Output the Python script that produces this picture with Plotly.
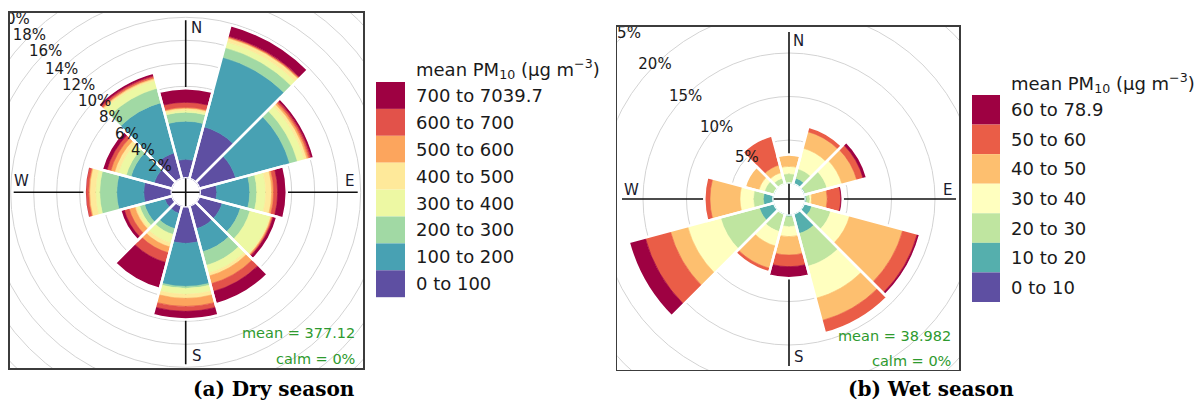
import math
import plotly.graph_objects as go

FIG_W, FIG_H = 1196, 401

# Wind sectors (degrees clockwise from north)
directions = [0, 30, 60, 90, 120, 150, 180, 210, 240, 270, 300, 330]

# ---- Dry season: % of hours per sector, split by mean PM10 class ----
dry_labels = ["0 to 100", "100 to 200", "200 to 300", "300 to 400",
              "400 to 500", "500 to 600", "600 to 700", "700 to 7039.7"]
dry_colors = ["#5E4FA2", "#48A1B3", "#A1D9A4", "#EDF8A3",
              "#FEE99A", "#FCA55D", "#E2524A", "#9E0142"]
dry_0_100 = [1.65, 4.70, 3.30, 1.48, 2.09, 2.09, 3.22, 0.70, 0.70, 2.43, 1.65, 2.35]
dry_100_200 = [3.31, 6.26, 4.87, 2.87, 1.65, 2.08, 3.74, 1.39, 1.82, 2.35, 2.09, 4.52]
dry_200_300 = [0.78, 0.87, 0.70, 0.61, 0.87, 1.22, 0.17, 0.52, 0.44, 1.48, 0.43, 1.30]
dry_300_400 = [0.17, 0.52, 0.61, 0.78, 1.82, 0.70, 0.52, 0.78, 0.26, 0.35, 0.70, 0.70]
dry_400_500 = [0.18, 0.35, 0.26, 0.52, 0.09, 0.26, 0.35, 0.35, 0.17, 0.52, 0.35, 0.17]
dry_500_600 = [0.08, 0.08, 0.17, 0.17, 0.09, 0.69, 0.70, 0.52, 0.52, 0.09, 0.35, 0.09]
dry_600_700 = [0.44, 0.09, 0.18, 0.35, 0.09, 0.70, 0.43, 0.87, 0.44, 0.26, 0.34, 0.17]
dry_700_up = [1.22, 0.96, 0.26, 0.79, 0.34, 1.13, 0.70, 2.35, 0.35, 0.09, 0.44, 0.27]
dry_mean = 377.12
dry_calm = 0

# ---- Wet season ----
wet_labels = ["0 to 10", "10 to 20", "20 to 30", "30 to 40",
              "40 to 50", "50 to 60", "60 to 78.9"]
wet_colors = ["#5E4FA2", "#55AFAD", "#BFE5A0", "#FFFFBF",
              "#FDBF6F", "#EA5D47", "#9E0142"]
wet_0_10 = [0, 0, 0, 0, 0, 0, 0, 0, 0, 0, 0, 0]
wet_10_20 = [0.05, 0.75, 0.20, 0.25, 0.98, 2.36, 0.25, 0.10, 1.78, 1.17, 0.10, 0.00]
wet_20_30 = [1.09, 1.10, 2.57, 0.38, 2.24, 3.90, 1.15, 2.03, 4.60, 1.15, 1.08, 0.75]
wet_30_40 = [0.84, 2.43, 1.77, 0.20, 2.24, 3.80, 1.15, 1.72, 3.91, 1.53, 0.67, 0.65]
wet_40_50 = [1.35, 1.98, 1.78, 1.79, 6.32, 2.64, 2.11, 2.65, 2.07, 3.45, 1.65, 0.89]
wet_50_60 = [0.00, 0.58, 0.75, 1.54, 1.73, 1.50, 1.34, 0.45, 2.98, 0.65, 0.00, 3.51]
wet_60_up = [0.00, 0.00, 0.46, 0.23, 0.34, 0.00, 1.33, 0.00, 1.96, 0.00, 0.00, 0.00]
wet_mean = 38.982
wet_calm = 0

dry_series = [dry_0_100, dry_100_200, dry_200_300, dry_300_400,
              dry_400_500, dry_500_600, dry_600_700, dry_700_up]
wet_series = [wet_0_10, wet_10_20, wet_20_30, wet_30_40,
              wet_40_50, wet_50_60, wet_60_up]

LEGEND_TITLE = "mean PM<sub>10</sub> (µg m<sup>−3</sup>)"
TEXT_FONT = "DejaVu Sans"

panels = [
    dict(series=dry_series, colors=dry_colors, labels=dry_labels,
         mean=dry_mean, calm=dry_calm, caption="(a) Dry season",
         grid_step=2, grid_max=20,
         box=(9.5, 12.7, 363.3, 368.3), center=(185.7, 192.3), radius=175,
         hole=14.0, px_per_pct=11.5, axis_len=172, dir_r=164, dir_shift=11,
         legend_x=376, legend_w=29, legend_top=82, legend_row=26.9,
         legend_text_x=414, legend_title_y=69,
         stats_x=357.3, stats_y=(333, 359), caption_xy=(274, 389)),
    dict(series=wet_series, colors=wet_colors, labels=wet_labels,
         mean=wet_mean, calm=wet_calm, caption="(b) Wet season",
         grid_step=5, grid_max=25,
         box=(617.3, 26.7, 959.3, 370.0), center=(789.0, 199.0), radius=169,
         hole=15.5, px_per_pct=8.7, axis_len=167, dir_r=158, dir_shift=9.5,
         legend_x=972, legend_w=28, legend_top=95, legend_row=29.57,
         legend_text_x=1009, legend_title_y=83,
         stats_x=953.3, stats_y=(336, 361), caption_xy=(930.5, 389)),
]


def px_x(v):
    return v / FIG_W


def px_y(v):
    return 1 - v / FIG_H


fig = go.Figure()
shapes, annotations = [], []
layout_axes = {}

for i, p in enumerate(panels, start=1):
    sfx = "" if i == 1 else str(i)
    xref, yref, polar_id = "x" + sfx, "y" + sfx, "polar" + sfx
    cx, cy = p["center"]
    bx0, by0, bx1, by1 = p["box"]
    R, hole, k = p["radius"], p["hole"], p["px_per_pct"]

    # Pixel-scaled frame around the rose (1 unit = 1 px, origin at rose centre)
    axis_common = dict(showgrid=False, zeroline=False, showticklabels=False,
                       ticks="", showline=True, mirror=True,
                       linecolor="#3c3c3c", linewidth=1.3, fixedrange=True)
    layout_axes["xaxis" + sfx] = dict(axis_common, anchor=yref,
                                      domain=[px_x(bx0), px_x(bx1)],
                                      range=[bx0 - cx, bx1 - cx])
    layout_axes["yaxis" + sfx] = dict(axis_common, anchor=xref,
                                      domain=[px_y(by1), px_y(by0)],
                                      range=[-(by1 - cy), cy - by0])

    # Polar subplot holding the stacked sectors
    layout_axes[polar_id] = dict(
        domain=dict(x=[px_x(cx - R), px_x(cx + R)], y=[px_y(cy + R), px_y(cy - R)]),
        hole=hole / R, bgcolor="rgba(0,0,0,0)", barmode="overlay",
        radialaxis=dict(visible=False, range=[0, (R - hole) / k]),
        angularaxis=dict(visible=False, rotation=90, direction="clockwise"),
    )

    # Frequency grid circles
    for pct in range(p["grid_step"], p["grid_max"] + p["grid_step"], p["grid_step"]):
        r = hole + k * pct
        shapes.append(dict(type="circle", xref=xref, yref=yref, x0=-r, y0=-r, x1=r, y1=r,
                           line=dict(color="#d3d3d3", width=1), layer="below"))
    # Compass cross
    L = p["axis_len"]
    shapes.append(dict(type="line", xref=xref, yref=yref, x0=-L, y0=0, x1=L, y1=0,
                       line=dict(color="#111111", width=1.6), layer="below"))
    shapes.append(dict(type="line", xref=xref, yref=yref, x0=0, y0=-L, x1=0, y1=L,
                       line=dict(color="#111111", width=1.6), layer="below"))

    # Stacked sectors: each class starts where the previous one ends
    base = [0.0] * len(directions)
    for vals, col in zip(p["series"], p["colors"]):
        fig.add_trace(go.Barpolar(
            r=vals, base=list(base), theta=directions, width=30, subplot=polar_id,
            marker=dict(color=col, line=dict(color=col, width=0.6)),
            hoverinfo="skip", showlegend=False))
        base = [b + v for b, v in zip(base, vals)]
    # White outline per sector gives the gaps between neighbouring sectors
    fig.add_trace(go.Barpolar(
        r=base, base=[0] * len(directions), theta=directions, width=30, subplot=polar_id,
        marker=dict(color="rgba(0,0,0,0)", line=dict(color="white", width=2.5)),
        hoverinfo="skip", showlegend=False))

    # Percentage labels along the north-west diagonal
    far_x, far_y, far_t = [], [], []
    for pct in range(p["grid_step"], p["grid_max"] + p["grid_step"], p["grid_step"]):
        r = hole + k * pct
        dx, dy = -r / math.sqrt(2), r / math.sqrt(2)
        if r <= R:
            annotations.append(dict(x=px_x(cx + dx), y=px_y(cy - dy), xref="paper", yref="paper",
                                    text=f"{pct}%", showarrow=False, xanchor="center",
                                    yanchor="middle",
                                    font=dict(family=TEXT_FONT, size=15, color="#1a1a1a")))
        else:
            far_x.append(dx)
            far_y.append(dy)
            far_t.append(f"{pct}%")
    fig.add_trace(go.Scatter(x=far_x, y=far_y, text=far_t, mode="text", xaxis=xref, yaxis=yref,
                             textposition="middle center", cliponaxis=True,
                             textfont=dict(family=TEXT_FONT, size=15, color="#1a1a1a"),
                             hoverinfo="skip", showlegend=False))

    # Compass letters
    dr, sh = p["dir_r"], p["dir_shift"]
    for letter, (lx, ly) in {"N": (sh, dr), "E": (dr, sh), "S": (sh, -dr), "W": (-dr, sh)}.items():
        annotations.append(dict(x=px_x(cx + lx), y=px_y(cy - ly), xref="paper", yref="paper",
                                text=letter, showarrow=False, xanchor="center", yanchor="middle",
                                font=dict(family=TEXT_FONT, size=15, color="#1a1a2e")))

    # Summary statistics
    for txt, sy in zip([f"mean = {p['mean']}", f"calm = {p['calm']}%"], p["stats_y"]):
        annotations.append(dict(x=px_x(p["stats_x"]), y=px_y(sy), xref="paper", yref="paper",
                                text=txt, showarrow=False, xanchor="right", yanchor="middle",
                                font=dict(family=TEXT_FONT, size=14.5, color="#2e9a2e")))

    # Colour key: highest class on top
    n = len(p["labels"])
    for row in range(n):
        j = n - 1 - row
        top = p["legend_top"] + row * p["legend_row"]
        shapes.append(dict(type="rect", xref="paper", yref="paper",
                           x0=px_x(p["legend_x"]), x1=px_x(p["legend_x"] + p["legend_w"]),
                           y0=px_y(top + p["legend_row"]), y1=px_y(top),
                           fillcolor=p["colors"][j], line=dict(width=0)))
        annotations.append(dict(x=px_x(p["legend_text_x"]), y=px_y(top + p["legend_row"] / 2),
                                xref="paper", yref="paper", text=p["labels"][j], showarrow=False,
                                xanchor="left", yanchor="middle",
                                font=dict(family=TEXT_FONT, size=18, color="#1a1a1a")))
    annotations.append(dict(x=px_x(p["legend_text_x"]), y=px_y(p["legend_title_y"]),
                            xref="paper", yref="paper", text=LEGEND_TITLE, showarrow=False,
                            xanchor="left", yanchor="middle",
                            font=dict(family=TEXT_FONT, size=18, color="#1a1a1a")))

    # Panel caption
    capx, capy = p["caption_xy"]
    annotations.append(dict(x=px_x(capx), y=px_y(capy), xref="paper", yref="paper",
                            text=f"<b>{p['caption']}</b>", showarrow=False,
                            xanchor="center", yanchor="middle",
                            font=dict(family="DejaVu Serif", size=20, color="black")))

fig.update_layout(
    width=FIG_W, height=FIG_H, autosize=False,
    margin=dict(l=0, r=0, t=0, b=0, pad=0),
    paper_bgcolor="white", plot_bgcolor="white",
    showlegend=False, dragmode=False,
    shapes=shapes, annotations=annotations,
    **layout_axes,
)

fig.write_html("out.html", config={"displayModeBar": False, "staticPlot": True})
